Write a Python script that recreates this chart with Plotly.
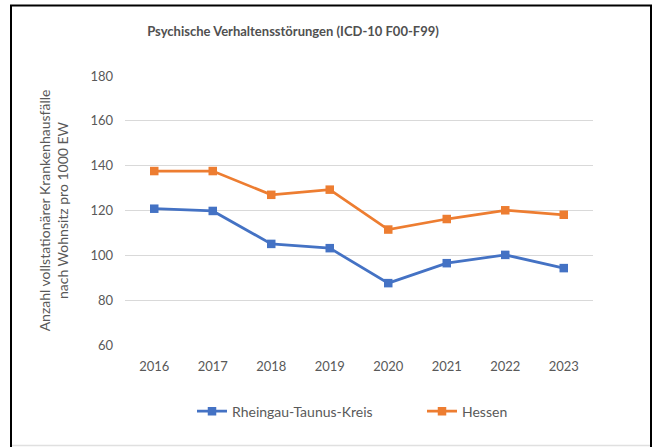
import plotly.graph_objects as go

years = ["2016", "2017", "2018", "2019", "2020", "2021", "2022", "2023"]
rtk = [120.8, 119.8, 105.1, 103.2, 87.6, 96.5, 100.2, 94.3]
hessen = [137.6, 137.6, 127.0, 129.3, 111.5, 116.2, 120.1, 118.1]
series_names = ["Rheingau-Taunus-Kreis", "Hessen"]
title_text = "Psychische Verhaltensstörungen (ICD-10 F00-F99)"
ytitle = "Anzahl vollstationärer Krankenhausfälle<br>nach Wohnsitz pro 1000 EW"

FONT = "Lato"
GRAY = "#595959"

# plot area in pixels
PL, PR, PT, PB = 125, 593, 75.7, 345.3
PW, PH = PR - PL, PB - PT

fig = go.Figure()
fig.add_trace(go.Scatter(x=years, y=rtk, name=series_names[0], mode="lines+markers",
                         line=dict(color="#4472C4", width=2.75),
                         marker=dict(symbol="square", size=8.5, color="#4472C4"),
                         legend="legend"))
fig.add_trace(go.Scatter(x=years, y=hessen, name=series_names[1], mode="lines+markers",
                         line=dict(color="#ED7D31", width=2.75),
                         marker=dict(symbol="square", size=8.5, color="#ED7D31"),
                         legend="legend2"))

leg_common = dict(orientation="h", xanchor="left", y=(PB - 412)/PH, yanchor="middle",
                  font=dict(size=14, color=GRAY), itemwidth=30, bgcolor="rgba(0,0,0,0)")

fig.update_layout(
    width=654, height=447,
    margin=dict(l=PL, r=654 - PR, t=PT, b=447 - PB),
    paper_bgcolor="white", plot_bgcolor="white",
    font=dict(family=FONT, color=GRAY, size=13),
    title=dict(text="<b>" + title_text + "</b>", x=293/654, xanchor="center",
               y=1 - 31/447, yanchor="middle", font=dict(size=13, color="#505050", family=FONT)),
    showlegend=True,
    legend=dict(x=(192 - PL)/PW, **leg_common),
    legend2=dict(x=(422 - PL)/PW, **leg_common),
    xaxis=dict(type="category", range=[-0.5, 7.5], showgrid=False, zeroline=False,
               showline=False, ticks="", ticklabelstandoff=12, tickfont=dict(size=13, color=GRAY)),
    yaxis=dict(range=[60, 180], dtick=20, showgrid=True, gridcolor="#d9d9d9", gridwidth=1,
               zeroline=False, showline=False, ticks="", ticklabelstandoff=11,
               tickfont=dict(size=13, color=GRAY),
               title=dict(text=ytitle, font=dict(size=14, color=GRAY), standoff=18)),
    shapes=[
        dict(type="rect", xref="paper", yref="paper", x0=(11 - PL)/PW, x1=(651 - PL)/PW,
             y0=(PB - 452)/PH, y1=(PB - 5)/PH, line=dict(color="black", width=2),
             fillcolor="rgba(0,0,0,0)", layer="below"),
        dict(type="line", xref="paper", yref="paper", x0=(12 - PL)/PW, x1=(650 - PL)/PW,
             y0=(PB - 446)/PH, y1=(PB - 446)/PH, line=dict(color="#e0e0e0", width=1.5),
             layer="below"),
    ],
)

fig.write_html("out.html", config={"displayModeBar": False},
               post_script="document.body.style.margin='0';")
